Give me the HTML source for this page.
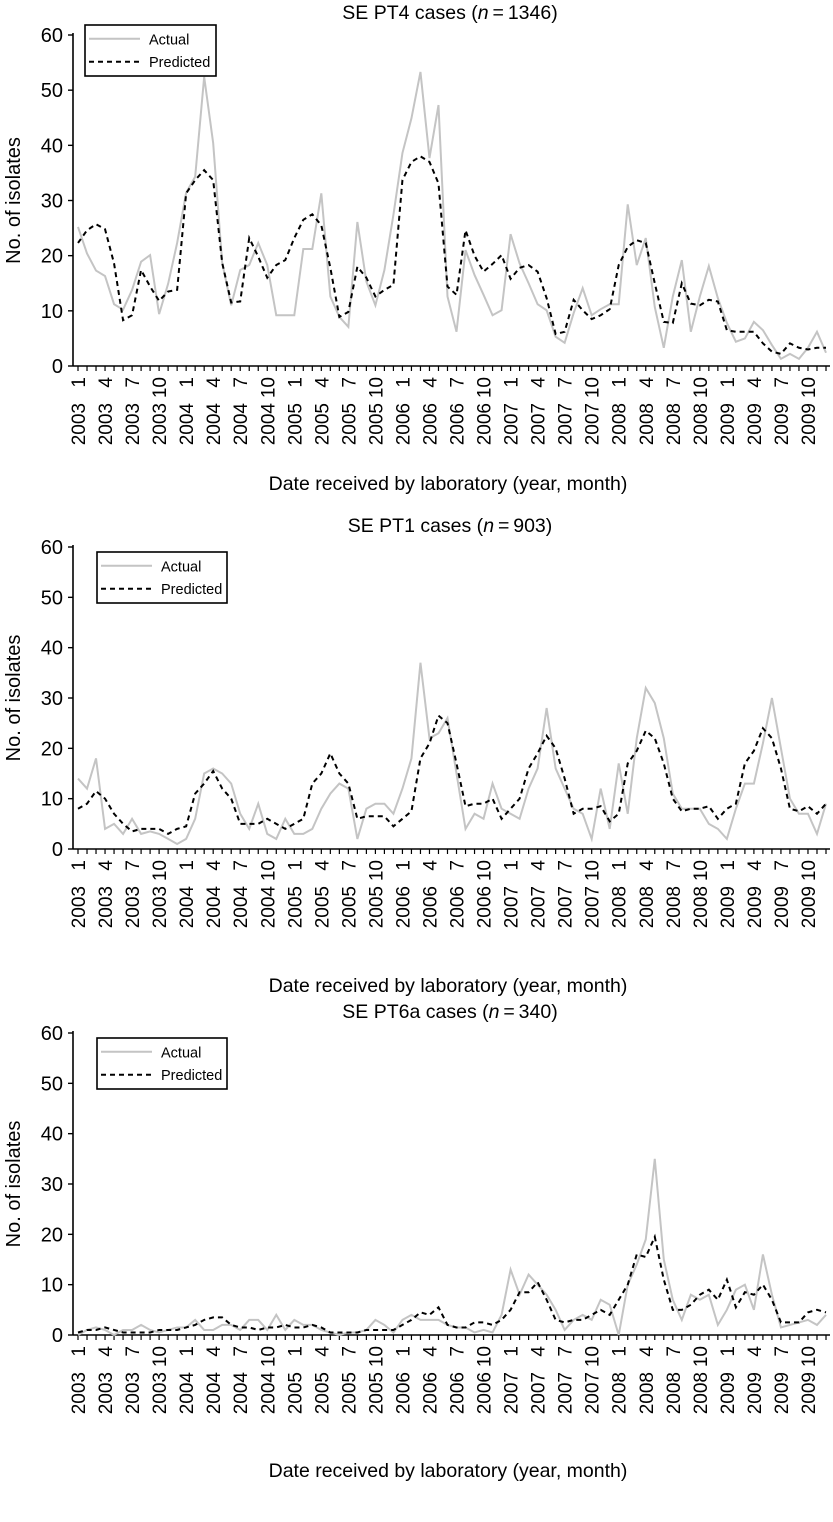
<!DOCTYPE html>
<html><head><meta charset="utf-8"><style>
body{margin:0;background:#fff;width:833px;height:1517px;overflow:hidden}
svg{font-family:"Liberation Sans",Arial,sans-serif}
</style></head><body>
<svg id="s" width="833" height="1517"></svg>
<script>
const months=[];for(let y=2003;y<=2009;y++)for(let m=1;m<=12;m++)months.push([y,m]);
const yTicks=[0,10,20,30,40,50,60];
const pt4Actual=[25.2,20.4,17.3,16.3,11.2,10.2,13.8,18.9,20.1,9.4,14.9,22.3,31.4,34.3,52.4,40.4,18.7,11,17.4,18.3,22.3,18.3,9.2,9.2,9.2,21.2,21.2,31.3,12.6,8.9,7.1,26.1,15.3,11,17.4,27.4,38.6,44.9,53.3,37.7,47.3,12.6,6.2,21,16.5,12.9,9.2,10.1,23.9,18.6,15,11.2,10.1,5.3,4.2,9.6,14.1,9.2,10.3,11.2,11.2,29.3,18.3,23.2,10.7,3.3,12.6,19.2,6.2,12.6,18.1,12.3,7.8,4.4,5,8,6.5,3.8,1.3,2.2,1.3,3.3,6.2,2.4];
const pt4Pred=[22.3,24.6,25.7,24.8,18.6,8.3,9.2,17.4,14.4,11.8,13.5,13.8,31.3,33.7,35.5,33.7,18.7,11.5,11.7,23.2,19.8,16,18.3,19.2,23.2,26.5,27.5,25.5,17.8,8.9,9.8,18,16,12.6,13.8,14.7,33.7,37,38,37,33.1,14.4,12.9,24.6,20,17.1,18.5,20.1,15.8,17.8,18.3,17.1,12.3,5.8,6.2,12,10.1,8.5,9.2,10.3,18.3,21.6,22.8,22.3,15,8,7.8,15,11.3,11,12,11.7,6.5,6.2,6.2,6.2,4.1,2.6,2.2,4.1,3.3,3,3.3,3.3];
const pt1Actual=[14,12,18,4,5,3,6,3,3.5,3,2,1,2,6,15,16,15,13,7,4,9,3,2,6,3,3,4,8,11,13,12,2,8,9,9,7,12,18,37,22,23,26,15,4,7,6,13,8,7,6,12,16,28,16,12,8,7,2,12,4,17,7,22,32,29,22,11,8,8,8,5,4,2,8,13,13,21,30,20,10,7,7,3,9];
const pt1Pred=[8,9,11.5,10,7,5,3.5,4,4,4,3,4,4.5,11,13,15.5,12,10,5,5,5,6,5,4,5,6,13,15,19,15,13,6,6.5,6.5,6.5,4.5,6,7.5,18,21,26.5,25,17,8.5,9,9,10,6,8,10,16,19,22.5,20,14,7,8,8,8.5,5.5,7,17,19.5,23.5,22,17,10,7.5,8,8,8.5,6,8,9,17,19.5,24,22,16,8,7.5,8.5,7,9];
const pt6Actual=[0,1,1.5,1,0,1,1,2,1,0.5,1,1.5,1.5,3,1,1,2,2,1,3,3,1,4,1,3,2,2,1,0.5,0,0.5,0.5,1,3,2,0.5,3,4,3,3,3,2,1.5,1.5,0.5,1,0.5,4,13,8,12,10,8,5,1,3,4,3,7,6,0,10,14,19,35,15,7,3,8,7,8,2,5,9,10,5,16,8,1.5,2,2.5,3,2,4];
const pt6Pred=[0.5,1,1,1.5,1,0.5,0.5,0.5,0.5,1,1,1,1.5,2,3,3.5,3.5,2,1.5,1.5,1,1.5,1.5,2,1.5,1.5,2,1.5,0.5,0.5,0.5,0.5,1,1,1,1,2,3,4.5,4,5.5,2,1.5,1.5,2.5,2.5,2,3,5,8.5,8.5,10.5,7,3,2.5,3,3,4,5,4,7,10,16,15.5,19.5,11,5,5,6,8,9,7,11,5.5,8.5,8,10,7,2.5,2.5,2.5,4.5,5,4.5];

const S=document.getElementById('s');const NS='http://www.w3.org/2000/svg';
function mk(t,a,p){const e=document.createElementNS(NS,t);for(const k in a)e.setAttribute(k,a[k]);(p||S).appendChild(e);return e;}
const panels=[
 {title:'SE PT4  cases (',n:'1346',top:35,bot:366,ty:19,xt:490,leg:[85,25,131,51],a:pt4Actual,p:pt4Pred,name:'pt4'},
 {title:'SE PT1 cases (',n:'903',top:547,bot:849,ty:532,xt:992,leg:[97,552,130,51],a:pt1Actual,p:pt1Pred,name:'pt1'},
 {title:'SE PT6a cases (',n:'340',top:1033,bot:1335,ty:1018,xt:1477,leg:[97,1038,130,51],a:pt6Actual,p:pt6Pred,name:'pt6a'}];
const X0=73,X1=830;
function xs(i){return 78+i*(826-78)/83;}
panels.forEach(P=>{
 const g=mk('g',{});
 
 
 const ys=v=>P.bot-(v/60)*(P.bot-P.top);
 const t=mk('text',{x:450,y:P.ty,'text-anchor':'middle','font-size':19.5},g);
 
 
 t.innerHTML=P.title+'<tspan font-style="italic">n</tspan>\u2009=\u2009'+P.n+')';
 mk('line',{x1:X0,y1:P.top-2,x2:X0,y2:P.bot,stroke:'#000','stroke-width':1.6},g);
 mk('line',{x1:X0,y1:P.bot,x2:X1,y2:P.bot,stroke:'#000','stroke-width':1.6},g);
 yTicks.forEach(v=>{
  mk('line',{x1:X0-5,y1:ys(v),x2:X0,y2:ys(v),stroke:'#000','stroke-width':1.4},g);
  const l=mk('text',{x:X0-10,y:ys(v)+7,'text-anchor':'end','font-size':20},g);
  
  
  l.textContent=v;
 });
 const yt=mk('text',{x:0,y:0,'text-anchor':'middle','font-size':20,transform:`translate(20,${(P.top+P.bot)/2}) rotate(-90)`},g);
 
 
 yt.textContent='No. of isolates';
 months.forEach((m,i)=>{
  mk('line',{x1:xs(i),y1:P.bot,x2:xs(i),y2:P.bot+5,stroke:'#000','stroke-width':1.2},g);
  if((m[1]-1)%3===0){
   const tl=mk('text',{x:0,y:0,'text-anchor':'end','font-size':19,transform:`translate(${xs(i)+7},${P.bot+11}) rotate(-90)`},g);
   
   
   tl.textContent=m[1];
   const ty=mk('text',{x:0,y:0,'text-anchor':'end','font-size':19,transform:`translate(${xs(i)+7},${P.bot+37}) rotate(-90)`},g);
   
   
   ty.textContent=m[0];
  }
 });
 const xt=mk('text',{x:448,y:P.xt,'text-anchor':'middle','font-size':19.5},g);
 
 
 xt.textContent='Date received by laboratory (year, month)';
 const pa=mk('polyline',{points:P.a.map((v,i)=>xs(i)+','+ys(v)).join(' '),fill:'none',stroke:'#c4c4c4','stroke-width':2},g);
 
 
 const pp=mk('polyline',{points:P.p.map((v,i)=>xs(i)+','+ys(v)).join(' '),fill:'none',stroke:'#000','stroke-width':2,'stroke-dasharray':'5,4'},g);
 
 
 const [lx,ly,lw,lh]=P.leg;
 const lg=mk('g',{},g);
 
 
 mk('rect',{x:lx,y:ly,width:lw,height:lh,fill:'#fff',stroke:'#000','stroke-width':1.6},lg);
 mk('line',{x1:lx+4,y1:ly+lh*0.27,x2:lx+55,y2:ly+lh*0.27,stroke:'#c4c4c4','stroke-width':2},lg);
 mk('line',{x1:lx+4,y1:ly+lh*0.72,x2:lx+55,y2:ly+lh*0.72,stroke:'#000','stroke-width':2,'stroke-dasharray':'5,4'},lg);
 const a=mk('text',{x:lx+64,y:ly+lh*0.27+5.5,'font-size':14.5},lg);
 
 
 a.textContent='Actual';
 const b=mk('text',{x:lx+64,y:ly+lh*0.72+5.5,'font-size':14.5},lg);
 
 
 b.textContent='Predicted';
});
</script>
</body></html>
